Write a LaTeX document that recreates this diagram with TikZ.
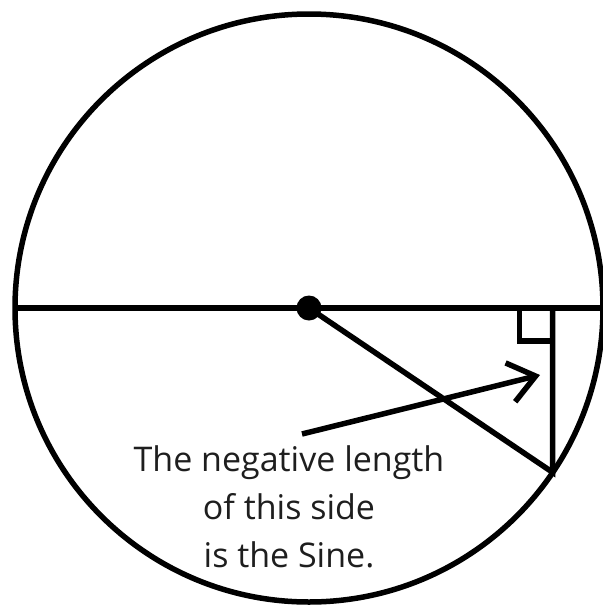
\documentclass[tikz,border=0pt]{standalone}
\usepackage{fontspec}
\setmainfont{Open Sans}
\usetikzlibrary{arrows.meta}
\definecolor{ink}{HTML}{1E1E1E}
\begin{document}
\begin{tikzpicture}[x=1pt, y=-1pt, line width=5.5pt, line join=miter, font=\fontsize{34}{48}\selectfont]
	\useasboundingbox (0,0) rectangle (603,606);
	
	\coordinate (O) at (309,308);
	\coordinate (W) at (15,308);
	\coordinate (E) at (603,308);
	\coordinate (P) at (552.7,472.4);
	\coordinate (F) at (552.7,308);
	\coordinate (tail) at (302,434);
	\coordinate (head) at (540,375);
	
	\draw (O) circle[radius=294pt];
	\draw (W) -- (E);
	\draw (O) -- (P) -- (F);
	\draw (F) ++(-33,0) -- ++(0,33) -- ++(33,0);
	\fill (O) circle[radius=12.5pt];
	
	\draw[-{Straight Barb[length=26pt,width=40pt]}] (tail) -- (head);
	
	\node[align=center, text=ink] (caption) at (289,507) {The negative length\\of this side\\is the Sine.};
\end{tikzpicture}
\end{document}
